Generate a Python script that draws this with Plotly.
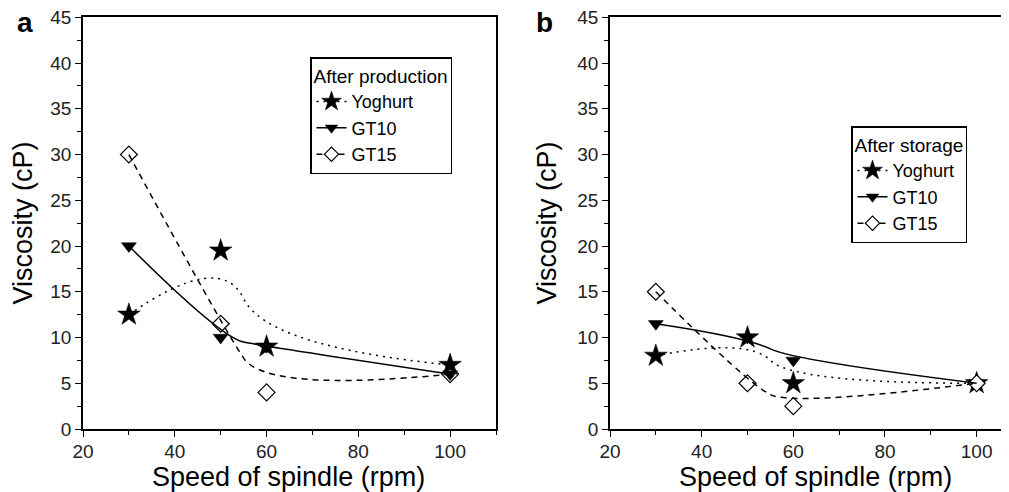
import plotly.graph_objects as go

# ---- data ----
speed = [30, 50, 60, 100]
# After production (panel a)
yog_a = [12.5, 19.5, 9.0, 7.0]
gt10_a = [20.0, 10.0, 9.0, 6.0]
gt15_a = [30.0, 11.5, 4.0, 6.0]
# After storage (panel b)
yog_b = [8.0, 10.0, 5.0, 5.0]
gt10_b = [11.5, 10.0, 7.5, 5.0]
gt15_b = [15.0, 5.0, 2.5, 5.0]

series_names = ["Yoghurt", "GT10", "GT15"]
x_ticks = [20, 40, 60, 80, 100]
y_ticks = [0, 5, 10, 15, 20, 25, 30, 35, 40, 45]
x_title = "Speed of spindle (rpm)"
y_title = "Viscosity (cP)"

FONT = "Liberation Sans, Arial, sans-serif"
BLACK = "#000000"

styles = {
    "Yoghurt": dict(dash="2px,5px", symbol="star", size=17, fill=BLACK, lw=1.5),
    "GT10": dict(dash="solid", symbol="triangle-down", size=13, fill=BLACK, lw=1.5),
    "GT15": dict(dash="6px,5px", symbol="diamond", size=13, fill="white", lw=1.5),
}


def bspline_path(xs, ys):
    """Quadratic clamped B-spline (Origin style) as an SVG path using data points as control points."""
    n = len(xs)
    p = f"M {xs[0]},{ys[0]}"
    for i in range(1, n - 2):
        mx = (xs[i] + xs[i + 1]) / 2
        my = (ys[i] + ys[i + 1]) / 2
        p += f" Q {xs[i]},{ys[i]} {mx},{my}"
    p += f" Q {xs[n-2]},{ys[n-2]} {xs[n-1]},{ys[n-1]}"
    return p


fig = go.Figure()

panels = [
    ("x", "y", "legend", {"Yoghurt": yog_a, "GT10": gt10_a, "GT15": gt15_a},
     ["GT15", "GT10", "Yoghurt"]),
    ("x2", "y2", "legend2", {"Yoghurt": yog_b, "GT10": gt10_b, "GT15": gt15_b},
     ["Yoghurt", "GT10", "GT15"]),
]

for xr, yr, leg, data, order in panels:
    for name in series_names:
        st = styles[name]
        fig.add_shape(type="path", path=bspline_path(speed, data[name]), xref=xr, yref=yr,
                      line=dict(color=BLACK, width=st["lw"], dash=st["dash"]), layer="above")
    for name in order:
        st = styles[name]
        fig.add_trace(go.Scatter(
            x=speed, y=data[name], mode="markers", xaxis=xr, yaxis=yr, showlegend=False,
            marker=dict(symbol=st["symbol"], size=st["size"], color=st["fill"],
                        line=dict(color=BLACK, width=1.2 if name == "GT15" else 0.5)),
            cliponaxis=False))
    for name in series_names:
        st = styles[name]
        fig.add_trace(go.Scatter(
            x=[None], y=[None], mode="lines+markers", name=name, xaxis=xr, yaxis=yr, legend=leg,
            line=dict(color=BLACK, width=st["lw"], dash=st["dash"]),
            marker=dict(symbol=st["symbol"], size=st["size"] - 2, color=st["fill"],
                        line=dict(color=BLACK, width=1.2 if name == "GT15" else 0.5))))

# page body has an 8px margin, so the figure is 8px smaller than the window
W, H = 1001, 484
ydom = [1 - 421 / H, 1 - 9.3 / H]

axis_common = dict(
    showline=True, linecolor=BLACK, linewidth=1.5, ticks="outside", ticklen=6, tickwidth=1.3,
    tickcolor=BLACK, showgrid=False, zeroline=False, automargin=False,
    ticklabeloverflow="allow",
    tickfont=dict(family=FONT, size=19, color="#222"),
)
xminor = dict(dtick=10, tick0=30, ticks="outside", ticklen=4, tickcolor=BLACK)
yminor = dict(dtick=2.5, ticks="outside", ticklen=4, tickcolor=BLACK)
leg_font = dict(family=FONT, size=18, color=BLACK)
leg_title_font = dict(family=FONT, size=19, color=BLACK)


def ann(text, x, y, size=27, bold=False, angle=0):
    return dict(text=f"<b>{text}</b>" if bold else text, x=x / W, y=1 - y / H,
                xref="paper", yref="paper", xanchor="center", yanchor="middle",
                showarrow=False, textangle=angle, font=dict(family=FONT, size=size, color=BLACK))


fig.update_layout(
    width=W, height=H, margin=dict(l=0, r=0, t=0, b=0, pad=0, autoexpand=False),
    paper_bgcolor="white", plot_bgcolor="white",
    font=dict(family=FONT, color=BLACK),
    xaxis=dict(domain=[75 / W, 488 / W], range=[20, 110], tickvals=x_ticks, mirror=True,
               minor=xminor, anchor="y", ticklabelstandoff=-2, **axis_common),
    yaxis=dict(domain=ydom, range=[0, 45], tickvals=y_ticks, mirror=True,
               minor=yminor, anchor="x", **axis_common),
    xaxis2=dict(domain=[602 / W, 1.0], range=[20, 107.06], tickvals=x_ticks, mirror=True,
                minor=xminor, anchor="y2", ticklabelstandoff=-2, **axis_common),
    yaxis2=dict(domain=ydom, range=[0, 45], tickvals=y_ticks, mirror=False,
                minor=yminor, anchor="x2", **axis_common),
    legend=dict(title=dict(text="After production", font=leg_title_font),
                font=leg_font, x=302 / W, y=1 - 49 / H,
                xanchor="left", yanchor="top", bordercolor=BLACK, borderwidth=1.5,
                bgcolor="white", tracegroupgap=0, itemwidth=30),
    legend2=dict(title=dict(text="After storage", font=leg_title_font),
                 font=leg_font, x=843 / W, y=1 - 118 / H,
                 xanchor="left", yanchor="top", bordercolor=BLACK, borderwidth=1.5,
                 bgcolor="white", tracegroupgap=0, itemwidth=30),
    annotations=[
        ann("a", 17, 14, size=28, bold=True),
        ann("b", 536, 14, size=28, bold=True),
        ann(x_title, 280, 468.5),
        ann(x_title, 807, 468.5),
        ann(y_title, 14.5, 215, angle=-90),
        ann(y_title, 538.5, 215, angle=-90),
    ],
)

fig.write_html("out.html")
